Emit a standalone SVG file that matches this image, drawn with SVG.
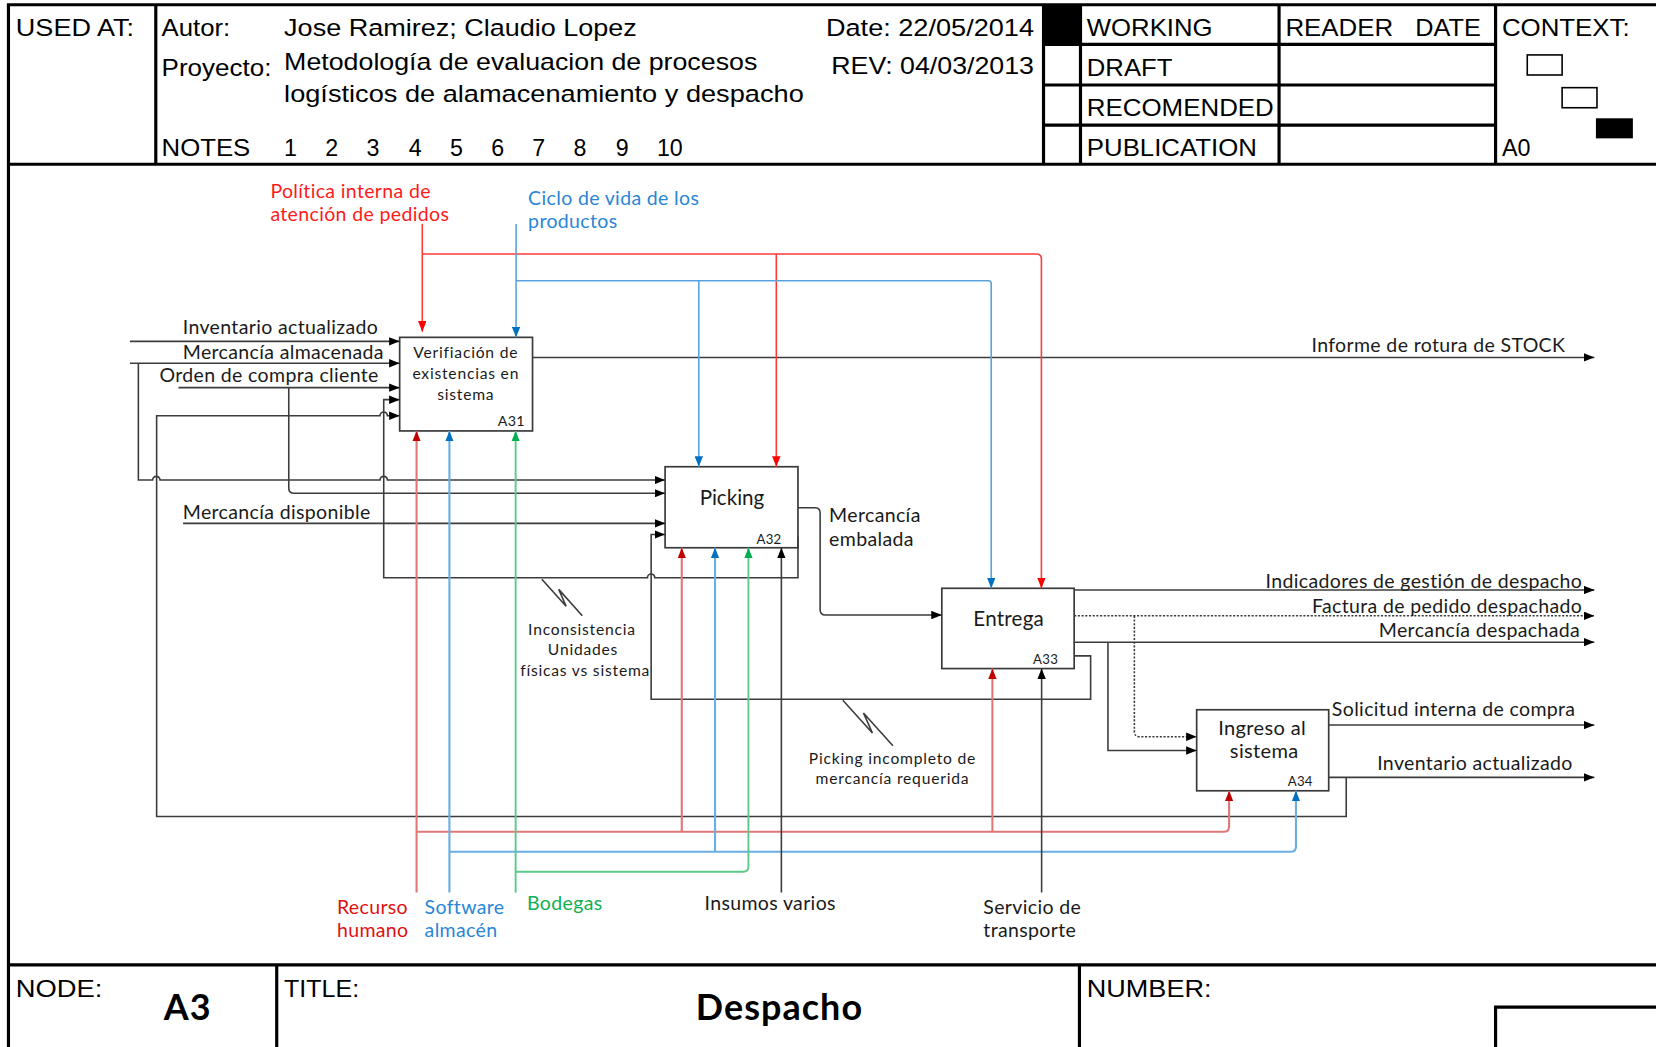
<svg xmlns="http://www.w3.org/2000/svg" width="1656" height="1047" viewBox="0 0 1656 1047">
  <style>
    .frame { fill: none; stroke: #000; stroke-width: 3; }
    .thin { fill: none; stroke: #000; stroke-width: 1.5; }
    .hdr { font-family: "Liberation Sans", Arial, sans-serif; font-size: 22px; fill: #000; }
    .lbl { font-family: Lato, "Open Sans", sans-serif; font-size: 18.5px; letter-spacing: 0.33px; fill: #1a1a1a; }
    .small { font-family: Lato, "Open Sans", sans-serif; font-size: 14.8px; letter-spacing: 0.75px; fill: #1a1a1a; }
    .tag { font-family: Lato, "Open Sans", sans-serif; font-size: 12.5px; letter-spacing: 0.3px; fill: #1a1a1a; }
    .big { font-family: Lato, "Open Sans", sans-serif; font-size: 34px; font-weight: bold; letter-spacing: 1px; fill: #000; }
    .box { fill: #fff; stroke: #3a3a3a; stroke-width: 1.6; }
    .ln { fill: none; stroke: #3c3c3c; stroke-width: 1.5; }
    .dot { fill: none; stroke: #3c3c3c; stroke-width: 1.5; stroke-dasharray: 2 1.5; }
    .ctl-r { fill: none; stroke: #ff3a3a; stroke-width: 1.5; }
    .ctl-b { fill: none; stroke: #5aa2dd; stroke-width: 1.5; }
    .mec-r { fill: none; stroke: #e07777; stroke-width: 2; }
    .mec-b { fill: none; stroke: #6aaee4; stroke-width: 2; }
    .mec-g { fill: none; stroke: #5cc889; stroke-width: 1.8; }
    .red { fill: #ff1a1a; }
    .dred { fill: #e01010; }
    .blue { fill: #2a86d6; }
    .green { fill: #10b050; }
  </style>
  <defs>
    <marker id="ak" viewBox="0 0 10 8" refX="10" refY="4" markerWidth="10" markerHeight="8" markerUnits="userSpaceOnUse" orient="auto"><path d="M0,0 L10,4 L0,8 z" fill="#000"/></marker>
    <marker id="ar" viewBox="0 0 10 8" refX="10" refY="4" markerWidth="10" markerHeight="8" markerUnits="userSpaceOnUse" orient="auto"><path d="M0,0 L10,4 L0,8 z" fill="#ff0000"/></marker>
    <marker id="adr" viewBox="0 0 10 8" refX="10" refY="4" markerWidth="10" markerHeight="8" markerUnits="userSpaceOnUse" orient="auto"><path d="M0,0 L10,4 L0,8 z" fill="#c00000"/></marker>
    <marker id="ab" viewBox="0 0 10 8" refX="10" refY="4" markerWidth="10" markerHeight="8" markerUnits="userSpaceOnUse" orient="auto"><path d="M0,0 L10,4 L0,8 z" fill="#0070c0"/></marker>
    <marker id="ag" viewBox="0 0 10 8" refX="10" refY="4" markerWidth="10" markerHeight="8" markerUnits="userSpaceOnUse" orient="auto"><path d="M0,0 L10,4 L0,8 z" fill="#00b050"/></marker>
  </defs>
  <rect width="1656" height="1047" fill="#fff"/>
  <g transform="scale(1.0562)">
    <!-- title block: header -->
    <g id="header">
      <path class="frame" d="M8,4.5 H1600 M8,3 V1000 M147.5,4.5 V155.5 M8,155.5 H1600"/>
      <path class="frame" d="M988,4.5 V155.5 M1023,4.5 V155.5 M1211,4.5 V155.5 M1416,4.5 V155.5"/>
      <path class="frame" d="M988,42 H1416 M988,80.5 H1416 M988,118.5 H1416"/>
      <rect x="988" y="4.5" width="35" height="37.5" fill="#000"/>
      <rect x="1446" y="52" width="33" height="19" class="thin" fill="none"/>
      <rect x="1479" y="83" width="33" height="19" class="thin" fill="none"/>
      <rect x="1511" y="112" width="35" height="19" fill="#000"/>
      <text class="hdr" x="15" y="34" textLength="112" lengthAdjust="spacingAndGlyphs">USED AT:</text>
      <text class="hdr" x="153" y="34" textLength="65" lengthAdjust="spacingAndGlyphs">Autor:</text>
      <text class="hdr" x="269" y="34" textLength="334" lengthAdjust="spacingAndGlyphs">Jose Ramirez; Claudio Lopez</text>
      <text class="hdr" x="782" y="34" textLength="197" lengthAdjust="spacingAndGlyphs">Date: 22/05/2014</text>
      <text class="hdr" x="153" y="72" textLength="104" lengthAdjust="spacingAndGlyphs">Proyecto:</text>
      <text class="hdr" x="269" y="66" textLength="448" lengthAdjust="spacingAndGlyphs">Metodología de evaluacion de procesos</text>
      <text class="hdr" x="269" y="97" textLength="492" lengthAdjust="spacingAndGlyphs">logísticos de alamacenamiento y despacho</text>
      <text class="hdr" x="787" y="70" textLength="192" lengthAdjust="spacingAndGlyphs">REV: 04/03/2013</text>
      <text class="hdr" x="153" y="148" textLength="84" lengthAdjust="spacingAndGlyphs">NOTES</text>
      <text class="hdr" y="148"><tspan x="269">1</tspan><tspan x="308">2</tspan><tspan x="347">3</tspan><tspan x="387">4</tspan><tspan x="426">5</tspan><tspan x="465">6</tspan><tspan x="504">7</tspan><tspan x="543">8</tspan><tspan x="583">9</tspan><tspan x="622">10</tspan></text>
      <text class="hdr" x="1029" y="34" textLength="119" lengthAdjust="spacingAndGlyphs">WORKING</text>
      <text class="hdr" x="1029" y="72" textLength="81" lengthAdjust="spacingAndGlyphs">DRAFT</text>
      <text class="hdr" x="1029" y="110" textLength="177" lengthAdjust="spacingAndGlyphs">RECOMENDED</text>
      <text class="hdr" x="1029" y="148" textLength="161" lengthAdjust="spacingAndGlyphs">PUBLICATION</text>
      <text class="hdr" x="1217" y="34" textLength="102" lengthAdjust="spacingAndGlyphs">READER</text>
      <text class="hdr" x="1340" y="34" textLength="62" lengthAdjust="spacingAndGlyphs">DATE</text>
      <text class="hdr" x="1422" y="34" textLength="121" lengthAdjust="spacingAndGlyphs">CONTEXT:</text>
      <text class="hdr" x="1422" y="148" textLength="27" lengthAdjust="spacingAndGlyphs">A0</text>
    </g>

    <!-- title block: footer -->
    <g id="footer">
      <path class="frame" d="M8,913.5 H1600 M262,913.5 V1000 M1022,913.5 V1000 M1416,1000 V953.5 H1600"/>
      <text class="hdr" x="15" y="944" textLength="82" lengthAdjust="spacingAndGlyphs">NODE:</text>
      <text class="big" x="155" y="966">A3</text>
      <text class="hdr" x="269" y="944" textLength="71" lengthAdjust="spacingAndGlyphs">TITLE:</text>
      <text class="big" x="738" y="966" text-anchor="middle">Despacho</text>
      <text class="hdr" x="1029" y="944" textLength="118" lengthAdjust="spacingAndGlyphs">NUMBER:</text>
    </g>

    <!-- activity boxes -->
    <g id="A31">
      <rect class="box" x="378.4" y="319.4" width="125.8" height="88.6"/>
      <text class="small" x="441" y="339.3" text-anchor="middle">Verifiación de</text>
      <text class="small" x="441" y="359.2" text-anchor="middle">existencias en</text>
      <text class="small" x="441" y="378.8" text-anchor="middle">sistema</text>
      <text class="tag" x="497" y="403.4" text-anchor="end" style="font-size:13.5px">A31</text>
    </g>
    <g id="A32">
      <rect class="box" x="629.7" y="441.9" width="125.8" height="76.7"/>
      <text class="lbl" x="693" y="478" text-anchor="middle" style="font-size:19.5px;letter-spacing:0">Picking</text>
      <text class="tag" x="740" y="515" text-anchor="end">A32</text>
    </g>
    <g id="A33">
      <rect class="box" x="891.7" y="557" width="125.3" height="76"/>
      <text class="lbl" x="955" y="593" text-anchor="middle" style="font-size:19.5px;letter-spacing:0.2px">Entrega</text>
      <text class="tag" x="1002" y="629" text-anchor="end">A33</text>
    </g>
    <g id="A34">
      <rect class="box" x="1133" y="672" width="125" height="76.7"/>
      <text class="lbl" x="1195" y="696" text-anchor="middle" style="font-size:19px">Ingreso al</text>
      <text class="lbl" x="1197" y="718" text-anchor="middle" style="font-size:19px">sistema</text>
      <text class="tag" x="1243" y="744" text-anchor="end">A34</text>
    </g>

    <!-- arrows -->
    <g id="connectors">
      <!-- inputs -->
      <path class="ln" d="M123,323.2 H378.4" marker-end="url(#ak)"/>
      <path class="ln" d="M123,344 H378.4" marker-end="url(#ak)"/>
      <path class="ln" d="M131,344 V454.5 H144.5 a3.5,3.5 0 0 1 7,0 H359.8 a3.5,3.5 0 0 1 7,0 H629.7" marker-end="url(#ak)"/>
      <path class="ln" d="M169,367 H378.4" marker-end="url(#ak)"/>
      <path class="ln" d="M273.4,367 V462 Q273.4,467 278.4,467 H629.7" marker-end="url(#ak)"/>
      <path class="ln" d="M173.3,495.5 H629.7" marker-end="url(#ak)"/>
      <!-- feedback A32 -> A31 -->
      <path class="ln" d="M755.5,508 V547 H620 a3.5,3.5 0 0 0 -7,0 H363.3 V378.4 H378.4" marker-end="url(#ak)"/>
      <path class="ln" d="M513,548.5 L536,574 L529,558 L551.3,583"/>
      <!-- feedback A34 -> A31 -->
      <path class="ln" d="M1274.6,736 V773 H148.3 V393.6 H359.8 a3.5,3.5 0 0 1 7,0 H378.4" marker-end="url(#ak)"/>
      <!-- feedback A33 -> A32 -->
      <path class="ln" d="M1017,621 H1032.6 V662 H616.5 V506 H629.7" marker-end="url(#ak)"/>
      <path class="ln" d="M798,663 L826,694 L817.5,675 L845.4,706"/>
      <!-- A32 -> A33 -->
      <path class="ln" d="M755.5,480.7 H771.5 Q776.5,480.7 776.5,485.7 V577.3 Q776.5,582.3 781.5,582.3 H891.7" marker-end="url(#ak)"/>
      <!-- outputs -->
      <path class="ln" d="M504.2,338.4 H1509.5" marker-end="url(#ak)"/>
      <path class="ln" d="M1017,558.6 H1509.5" marker-end="url(#ak)"/>
      <path class="dot" d="M1017,583 H1509.5" marker-end="url(#ak)"/>
      <path class="dot" d="M1074,583 V692.5 Q1074,697.5 1079,697.5 H1133" marker-end="url(#ak)"/>
      <path class="ln" d="M1017,608 H1509.5" marker-end="url(#ak)"/>
      <path class="ln" d="M1049,608 V710.5 H1133" marker-end="url(#ak)"/>
      <path class="ln" d="M1258,686.5 H1509.5" marker-end="url(#ak)"/>
      <path class="ln" d="M1258,736 H1509.5" marker-end="url(#ak)"/>
      <!-- controls -->
      <path class="ctl-r" d="M399.8,212 V314" marker-end="url(#ar)"/>
      <path class="ctl-r" d="M399.8,240.5 H981 Q986,240.5 986,245.5 V557" marker-end="url(#ar)"/>
      <path class="ctl-r" d="M735,240.5 V441.9" marker-end="url(#ar)"/>
      <path class="ctl-b" d="M488.6,212 V319.4" marker-end="url(#ab)"/>
      <path class="ctl-b" d="M488.6,265.8 H935.5 Q938.5,265.8 938.5,268.8 V557" marker-end="url(#ab)"/>
      <path class="ctl-b" d="M661.6,265.8 V441.9" marker-end="url(#ab)"/>
      <!-- mechanisms -->
      <path class="mec-r" d="M394.4,845 V408" marker-end="url(#adr)"/>
      <path class="mec-r" d="M394.4,787.5 H1158.7 Q1163.7,787.5 1163.7,782.5 V748.7" marker-end="url(#adr)"/>
      <path class="mec-r" d="M645.5,787.5 V518.6" marker-end="url(#adr)"/>
      <path class="mec-r" d="M939.6,787.5 V633" marker-end="url(#adr)"/>
      <path class="mec-b" d="M425.5,845 V408" marker-end="url(#ab)"/>
      <path class="mec-b" d="M425.5,806.4 H1222 Q1227,806.4 1227,801.4 V748.7" marker-end="url(#ab)"/>
      <path class="mec-b" d="M677,806.4 V518.6" marker-end="url(#ab)"/>
      <path class="mec-g" d="M488.2,845 V408" marker-end="url(#ag)"/>
      <path class="mec-g" d="M488.2,825.3 H703.6 Q708.6,825.3 708.6,820.3 V518.6" marker-end="url(#ag)"/>
      <path class="ln" d="M739.8,845 V518.6" marker-end="url(#ak)"/>
      <path class="ln" d="M986.2,845 V633" marker-end="url(#ak)"/>
    </g>

    <!-- arrow labels -->
    <g id="labels">
      <text class="lbl" x="173" y="316">Inventario actualizado</text>
      <text class="lbl" x="173" y="340">Mercancía almacenada</text>
      <text class="lbl" x="151" y="362">Orden de compra cliente</text>
      <text class="lbl" x="173" y="491">Mercancía disponible</text>
      <text class="lbl" x="1482" y="333" text-anchor="end">Informe de rotura de STOCK</text>
      <text class="lbl" x="785" y="494">Mercancía</text>
      <text class="lbl" x="785" y="517">embalada</text>
      <text class="lbl" x="1498" y="557" text-anchor="end">Indicadores de gestión de despacho</text>
      <text class="lbl" x="1498" y="580" text-anchor="end">Factura de pedido despachado</text>
      <text class="lbl" x="1496" y="603" text-anchor="end">Mercancía despachada</text>
      <text class="lbl" x="1261" y="678">Solicitud interna de compra</text>
      <text class="lbl" x="1489" y="729" text-anchor="end">Inventario actualizado</text>
      <text class="lbl red" x="256" y="187">Política interna de</text>
      <text class="lbl red" x="256" y="209">atención de pedidos</text>
      <text class="lbl blue" x="500" y="194">Ciclo de vida de los</text>
      <text class="lbl blue" x="500" y="216">productos</text>
      <text class="lbl dred" x="319" y="865">Recurso</text>
      <text class="lbl dred" x="319" y="887">humano</text>
      <text class="lbl blue" x="402" y="865">Software</text>
      <text class="lbl blue" x="402" y="887">almacén</text>
      <text class="lbl green" x="499" y="862">Bodegas</text>
      <text class="lbl" x="667" y="862">Insumos varios</text>
      <text class="lbl" x="931" y="865">Servicio de</text>
      <text class="lbl" x="931" y="887">transporte</text>
      <text class="small" x="551" y="601" text-anchor="middle">Inconsistencia</text>
      <text class="small" x="552" y="620" text-anchor="middle">Unidades</text>
      <text class="small" x="554" y="640" text-anchor="middle">físicas vs sistema</text>
      <text class="small" x="845" y="723" text-anchor="middle">Picking incompleto de</text>
      <text class="small" x="845" y="742" text-anchor="middle">mercancía requerida</text>
    </g>
  </g>
</svg>
